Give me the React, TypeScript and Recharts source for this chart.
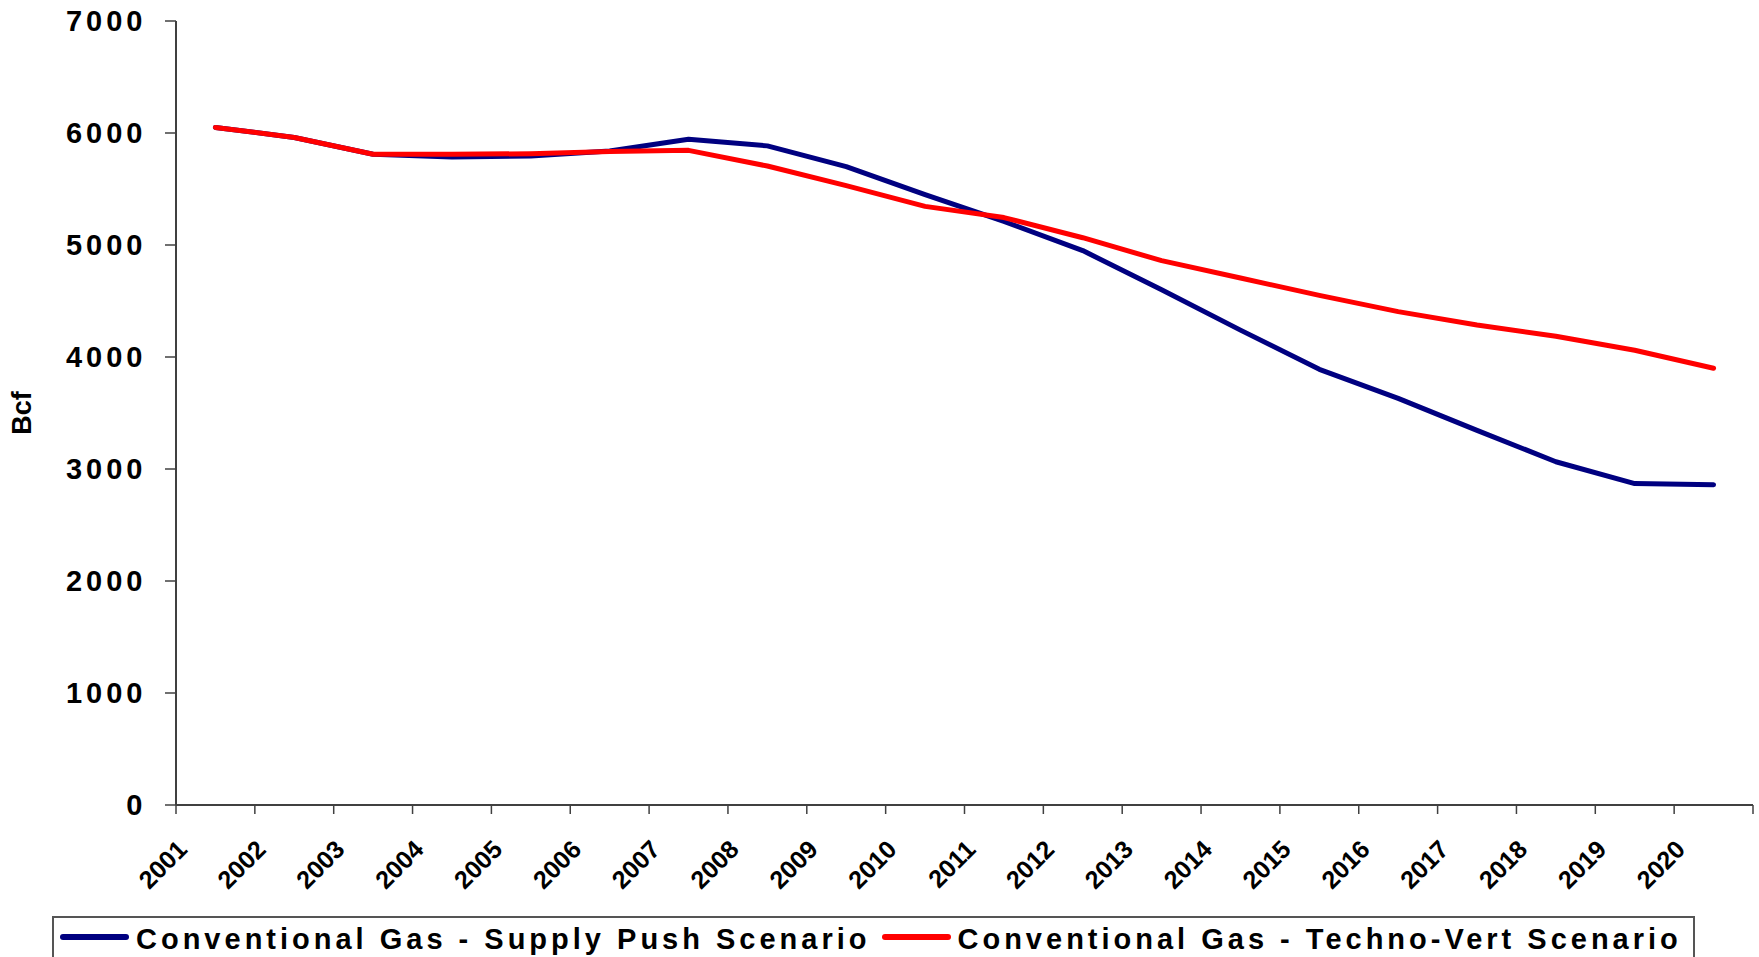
import { Line, LineChart, XAxis, YAxis } from "recharts";

const years = [
  "2001", "2002", "2003", "2004", "2005", "2006", "2007", "2008", "2009", "2010",
  "2011", "2012", "2013", "2014", "2015", "2016", "2017", "2018", "2019", "2020",
];
const supplyPush = [
  6050, 5960, 5810, 5785, 5795, 5840, 5945, 5885, 5700, 5450,
  5210, 4950, 4600, 4240, 3890, 3630, 3345, 3065, 2870, 2860,
];
const technoVert = [
  6050, 5960, 5810, 5810, 5815, 5835, 5845, 5705, 5530, 5345,
  5245, 5065, 4860, 4705, 4550, 4405, 4285, 4185, 4060, 3900,
];
const yTicks = [0, 1000, 2000, 3000, 4000, 5000, 6000, 7000];
const xTicks = years.map((_, i) => i).concat(years.length);

const data = years.map((year, i) => ({
  x: i + 0.5,
  year,
  supplyPush: supplyPush[i],
  technoVert: technoVert[i],
}));

const FONT = '"Liberation Sans", Arial, sans-serif';
const NAVY = "#000080";
const RED = "#ff0000";
const AXIS = "#404040";
const BORDER = "#8c8c8c";

// year labels sit on the category boundary ticks, rotated 45 degrees
function YearTick({ x, y, payload }: any) {
  const label = years[payload.value];
  if (!label) return null;
  const px = x + 12.5;
  const py = y + 35;
  return (
    <text
      x={px}
      y={py}
      transform={`rotate(-45 ${px} ${py})`}
      textAnchor="end"
      fontFamily={FONT}
      fontWeight="bold"
      fontSize={25}
      fill="#000"
    >
      {label}
    </text>
  );
}

function ValueTick({ x, y, payload }: any) {
  return (
    <text
      x={x - 16.5}
      y={y}
      textAnchor="end"
      dominantBaseline="central"
      fontFamily={FONT}
      fontWeight="bold"
      fontSize={29}
      letterSpacing={4}
      fill="#000"
    >
      {payload.value}
    </text>
  );
}

function AxisTitle({ viewBox }: any) {
  const cx = 22;
  const cy = viewBox.y + viewBox.height / 2;
  return (
    <text
      x={cx}
      y={cy}
      transform={`rotate(-90 ${cx} ${cy})`}
      textAnchor="middle"
      dominantBaseline="central"
      fontFamily={FONT}
      fontWeight="bold"
      fontSize={27}
      fill="#000"
    >
      Bcf
    </text>
  );
}

const legendItems = [
  { name: "Conventional Gas - Supply Push Scenario", color: NAVY },
  { name: "Conventional Gas - Techno-Vert Scenario", color: RED },
];

export default function App() {
  return (
    <div style={{ position: "absolute", left: 0, top: 0, width: 1759, height: 957, overflow: "hidden", background: "#fff" }}>
      <LineChart width={1759} height={957} data={data} margin={{ top: 21, right: 6, bottom: 0, left: 0 }}>
        <XAxis
          type="number"
          dataKey="x"
          domain={[0, 20]}
          ticks={xTicks}
          interval={0}
          height={152}
          tickSize={9}
          tick={<YearTick />}
          axisLine={{ stroke: AXIS, strokeWidth: 2 }}
          tickLine={{ stroke: AXIS, strokeWidth: 1.5 }}
        />
        <XAxis
          xAxisId="top"
          orientation="top"
          type="number"
          dataKey="x"
          domain={[0, 20]}
          height={0}
          tick={false}
          tickLine={false}
          axisLine={{ stroke: BORDER, strokeWidth: 2 }}
        />
        <YAxis
          domain={[0, 7000]}
          ticks={yTicks}
          interval={0}
          width={176}
          tickSize={11}
          tick={<ValueTick />}
          axisLine={{ stroke: AXIS, strokeWidth: 2 }}
          tickLine={{ stroke: AXIS, strokeWidth: 1.5 }}
          label={<AxisTitle />}
        />
        <YAxis
          yAxisId="right"
          orientation="right"
          domain={[0, 7000]}
          width={0}
          tick={false}
          tickLine={false}
          axisLine={{ stroke: BORDER, strokeWidth: 2 }}
        />
        <Line
          dataKey="supplyPush"
          name="Conventional Gas - Supply Push Scenario"
          type="linear"
          stroke={NAVY}
          strokeWidth={5}
          strokeLinecap="round"
          strokeLinejoin="round"
          dot={false}
          isAnimationActive={false}
        />
        <Line
          dataKey="technoVert"
          name="Conventional Gas - Techno-Vert Scenario"
          type="linear"
          stroke={RED}
          strokeWidth={5}
          strokeLinecap="round"
          strokeLinejoin="round"
          dot={false}
          isAnimationActive={false}
        />
      </LineChart>
      <div
        style={{
          position: "absolute",
          left: 52,
          top: 916,
          width: 1643,
          height: 60,
          boxSizing: "border-box",
          border: "2px solid #555",
          background: "#fff",
          display: "flex",
          alignItems: "flex-start",
          paddingLeft: 6,
          paddingTop: 4,
          fontFamily: FONT,
          fontWeight: "bold",
          fontSize: 29,
          letterSpacing: 4,
          lineHeight: "34px",
          whiteSpace: "nowrap",
        }}
      >
        {legendItems.map((item, i) => (
          <div key={item.name} style={{ display: "flex", alignItems: "flex-start", marginLeft: i === 0 ? 0 : 11 }}>
            <span style={{ display: "inline-block", width: 69, height: 6, borderRadius: 3, background: item.color, marginTop: 12, marginRight: 7 }} />
            <span>{item.name}</span>
          </div>
        ))}
      </div>
    </div>
  );
}
